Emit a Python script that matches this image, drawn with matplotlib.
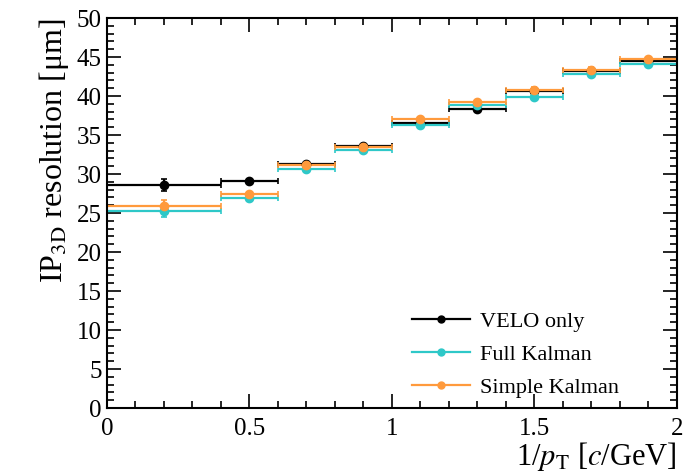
import numpy as np
import matplotlib as mpl
mpl.use('Agg')
import matplotlib.pyplot as plt
from matplotlib.ticker import MultipleLocator
from matplotlib.lines import Line2D

# bins in 1/pT [c/GeV]
bin_lo = np.array([0.0, 0.4, 0.6, 0.8, 1.0, 1.2, 1.4, 1.6, 1.8])
bin_hi = np.array([0.4, 0.6, 0.8, 1.0, 1.2, 1.4, 1.6, 1.8, 2.0])

# IP3D resolution [um]
velo = np.array([28.6, 29.1, 31.3, 33.6, 36.5, 38.3, 40.7, 43.2, 44.5])
velo_err = np.array([0.8, 0.3, 0.3, 0.3, 0.3, 0.3, 0.3, 0.3, 0.3])
full = np.array([25.3, 26.9, 30.6, 33.1, 36.3, 38.8, 39.9, 42.8, 44.1])
full_err = np.array([0.8, 0.3, 0.3, 0.3, 0.3, 0.3, 0.3, 0.3, 0.3])
simple = np.array([25.9, 27.4, 31.1, 33.5, 37.0, 39.2, 40.8, 43.4, 44.7])
simple_err = np.array([0.8, 0.3, 0.3, 0.3, 0.3, 0.3, 0.3, 0.3, 0.3])

labels = ['VELO only', 'Full Kalman', 'Simple Kalman']
colors = ['black', '#2ec8c8', '#ff9a3c']

plt.rcParams['font.family'] = ['Liberation Serif', 'DejaVu Serif']
plt.rcParams['mathtext.fontset'] = 'stix'

x = (bin_lo + bin_hi) / 2
xerr = (bin_hi - bin_lo) / 2

fig = plt.figure(figsize=(6.85, 4.75), dpi=100)
ax = fig.add_axes([0.156, 0.141, 0.832, 0.821])

for y, e, c, lab in zip([velo, full, simple], [velo_err, full_err, simple_err], colors, labels):
    ax.errorbar(x, y, xerr=xerr, yerr=e, fmt='o', color=c, ms=6, lw=1.6,
                capsize=2.5, capthick=1.2, label=lab)

ax.set_xlim(0, 2)
ax.set_ylim(0, 50)
ax.xaxis.set_minor_locator(MultipleLocator(0.1))
ax.yaxis.set_major_locator(MultipleLocator(5))
ax.yaxis.set_minor_locator(MultipleLocator(1))
ax.set_xticks([0, 0.5, 1, 1.5, 2], ['0', '0.5', '1', '1.5', '2'])
ax.tick_params(which='both', direction='in', top=True, right=True, labelsize=18, width=1.2)
ax.tick_params(which='major', length=10)
ax.tick_params(which='minor', length=5)
ax.tick_params(axis='x', pad=7)
for s in ax.spines.values():
    s.set_linewidth(1.5)

ax.set_ylabel('IP$_{\\rm 3D}$ resolution [\u03bcm]', fontsize=23, loc='top')
ax.set_xlabel(r'1/$p_{\rm T}$ [$c$/GeV]', fontsize=22, loc='right', labelpad=0)

hs = [Line2D([], [], color=c, marker='o', ms=5, lw=1.6) for c in colors]
ax.legend(hs, labels, loc='lower left', bbox_to_anchor=(0.5, -0.025), frameon=False,
          fontsize=16, handlelength=2.6, labelspacing=0.55, handletextpad=0.45)

fig.savefig('out.png', dpi=100)
